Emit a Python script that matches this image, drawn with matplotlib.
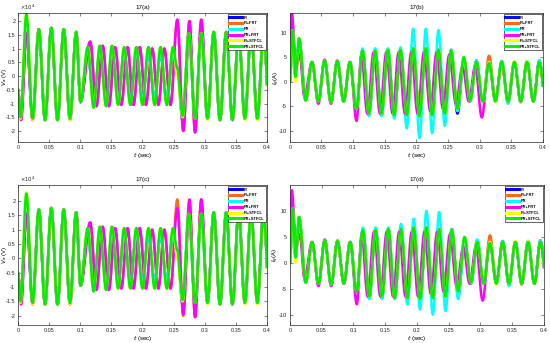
import numpy as np
import matplotlib.pyplot as plt

plt.rcParams['font.family'] = ['Liberation Sans', 'DejaVu Sans']
plt.rcParams['axes.unicode_minus'] = False

# ---- data (extrema of each half cycle) ----
labels = ['PI', 'PI+FRT', 'PR', 'PR+FRT', 'PI+STFCL', 'PR+STFCL']
colors = ['#0000FF', '#FF6A1A', '#00FFFF', '#FF00FF', '#FFFF00', '#00EE00']

# voltage, units of 1e4 V
tv = [0, 0.004, 0.0135, 0.0235, 0.0335, 0.0435, 0.0535, 0.0635, 0.0735, 0.0835,
      0.0935, 0.1005, 0.112, 0.1215, 0.1315, 0.1415, 0.151, 0.161, 0.1705, 0.1805,
      0.19, 0.2, 0.2095, 0.2195, 0.229, 0.239, 0.249, 0.2555, 0.2645, 0.2745,
      0.2845, 0.2945, 0.3045, 0.3145, 0.3245, 0.3345, 0.3445, 0.3545, 0.3645,
      0.3745, 0.3845, 0.3945, 0.4045]
tv_lag = [0, 0.005, 0.0135, 0.0235, 0.0335, 0.0435, 0.0535, 0.0635, 0.0735, 0.0835,
          0.0935, 0.1005, 0.116, 0.126, 0.136, 0.146, 0.156, 0.166, 0.176, 0.1855,
          0.1955, 0.2055, 0.2155, 0.2255, 0.235, 0.245, 0.256, 0.2655, 0.2755,
          0.2845, 0.2945, 0.3045, 0.3145, 0.3245, 0.3345, 0.3445, 0.3545, 0.3645,
          0.3745, 0.3845, 0.3945, 0.4045]

va_green = [-0.5, -1.5, 2.25, -1.55, 1.7, -1.6, 1.75, -1.6, 1.7, -1.55, 1.6, -0.95,
            1.05, -1.15, 1.1, -1.1, 1.1, -1.05, 1.05, -1.05, 1.05, -1.05, 1.05, -1.05,
            1.05, -1.05, 1.05, 0.3, -1.45, 1.55, -1.55, 1.55, -1.55, 1.6, -1.6, 1.6,
            -1.6, 1.6, -1.55, 1.6, -1.55, 1.6, -1.55]
va_yellow = [-0.5, -1.55, 2.3, -1.6, 1.7, -1.6, 1.75, -1.6, 1.7, -1.6, 1.6, -0.95,
             1.05, -1.15, 1.1, -1.1, 1.1, -1.05, 1.05, -1.05, 1.05, -1.05, 1.05, -1.05,
             1.05, -1.05, 1.05, 0.0, -1.5, 1.55, -1.55, 1.55, -1.6, 1.6, -1.6, 1.6,
             -1.6, 1.6, -1.6, 1.6, -1.6, 1.6, -1.6]
va_cyan = [-0.5, -1.5, 1.6, -1.55, 1.7, -1.6, 1.75, -1.6, 1.7, -1.55, 1.6, -0.95,
           0.85, -0.85, 0.8, -0.8, 0.8, -0.8, 0.8, -0.8, 0.8, -0.8, 0.8, -0.8,
           0.8, -0.8, 0.8, 0.3, -1.6, 1.55, -1.55, 1.55, -1.55, 1.6, -1.6, 1.6,
           -1.6, 1.6, -1.55, 1.6, -1.55, 1.6, -1.55]
va_blue = va_cyan
va_magenta = [-0.5, -1.6, 1.55, -1.6, 1.7, -1.6, 1.75, -1.6, 1.7, -1.6, 1.6, -0.95,
              1.25, -1.1, 1.1, -1.1, 1.05, -1.05, 1.05, -1.05, 1.05, -1.05, 1.0, -1.05,
              1.0, -1.05, 2.05, -2.0, 2.0, -2.05, 2.05, -1.55, 1.6, -1.6, 1.6, -1.6,
              1.6, -1.55, 1.6, -1.55, 1.6, -1.55]
va_orange = va_magenta
vc_magenta = [-0.5, -1.6, 1.55, -1.6, 1.7, -1.6, 1.75, -1.6, 1.7, -1.6, 1.6, -0.95,
              1.25, -1.1, 1.1, -1.1, 1.05, -1.05, 1.05, -1.05, 1.05, -1.05, 1.0, -1.05,
              1.0, -1.05, 1.75, -1.95, 2.05, -2.05, 2.05, -1.55, 1.6, -1.6, 1.6, -1.6,
              1.6, -1.55, 1.6, -1.55, 1.6, -1.55]

# grid current, A
ti = [0, 0.0045, 0.009, 0.0145, 0.025, 0.035, 0.045, 0.055, 0.065, 0.075, 0.085,
      0.095, 0.105, 0.115, 0.125, 0.135, 0.145, 0.155, 0.165, 0.175, 0.185, 0.195,
      0.205, 0.215, 0.225, 0.235, 0.245, 0.255, 0.265, 0.275, 0.285, 0.295, 0.305,
      0.315, 0.325, 0.335, 0.345, 0.355, 0.365, 0.375, 0.385, 0.3945, 0.4045]
ti_lag = [0, 0.003, 0.01, 0.0155, 0.023, 0.035, 0.045, 0.055, 0.065, 0.075, 0.085,
          0.095, 0.1055, 0.113, 0.1225, 0.1325, 0.1425, 0.1525, 0.1625, 0.172, 0.182,
          0.192, 0.202, 0.212, 0.222, 0.232, 0.242, 0.252, 0.2625, 0.273, 0.283, 0.293,
          0.3035, 0.3145, 0.325, 0.335, 0.345, 0.355, 0.365, 0.375, 0.385, 0.3945, 0.4045]

ib_green = [0, 10.5, 1.0, 8.8, -3.8, 4.0, -4.0, 4.3, -4.2, 4.2, -4.0, 4.0, -5.5, 6.3,
            -6.5, 6.3, -6.5, 6.5, -6.8, 6.5, -6.8, 6.8, -7.0, 6.8, -6.8, 6.5, -6.5,
            6.3, -5.5, 5.0, -3.8, 4.0, -4.0, 3.8, -4.0, 4.0, -4.0, 4.0, -4.0, 4.0,
            -4.0, 4.0, -4.0]
ib_yellow = [0, 10.5, 0.0, 8.8, -3.8, 4.0, -4.0, 4.3, -4.2, 4.2, -4.0, 4.0, -5.5, 6.3,
             -6.5, 6.3, -6.5, 6.5, -6.8, 6.5, -6.8, 6.8, -7.0, 6.8, -6.8, 6.5, -6.5,
             6.3, -5.5, 4.8, -3.8, 4.0, -4.0, 4.0, -4.2, 4.0, -4.0, 4.2, -4.0, 4.2,
             -4.0, 4.0, -4.0]
ib_blue = [0, 10.5, 1.0, 8.8, -3.8, 4.0, -4.0, 4.3, -4.2, 4.2, -4.0, 4.0, -5.5, 6.5,
           -6.8, 6.5, -6.8, 6.5, -6.8, 6.5, -6.8, 6.8, -7.0, 6.8, -6.8, 6.5, -6.5,
           6.5, -6.5, 4.5, -4.0, 4.3, -4.0, 4.0, -4.0, 4.2, -4.2, 4.0, -4.0, 4.2,
           -4.0, 4.3, -4.0]
ib_orange = [0, 10.5, 1.0, 8.8, -3.8, 4.0, -4.0, 4.3, -4.2, 4.2, -4.0, 4.0, -5.5, 6.3,
             -6.5, 6.3, -6.5, 6.5, -6.8, 6.5, -6.8, 6.8, -7.0, 6.8, -6.8, 6.5, -6.5,
             6.3, -5.5, 4.5, -4.0, 3.8, -4.0, 5.3, -3.5, 3.5, -4.0, 4.0, -4.2, 4.0,
             -4.0, 4.0, -4.0]
ib_cyan = [0, 10.5, 1.0, 8.8, -3.8, 4.0, -4.0, 4.3, -4.2, 4.2, -4.0, 4.0, -5.5, 6.8,
           -7.0, 6.8, -7.0, 6.8, -7.5, 7.0, -9.5, 10.8, -11.5, 10.8, -10.5, 10.5, -9.0,
           6.5, -6.0, 4.5, -4.0, 4.3, -4.0, 4.0, -4.0, 4.2, -4.5, 4.0, -4.0, 4.2,
           -4.0, 4.3, -4.0]
ib_magenta = [0, 14.0, 3.0, 5.5, -3.0, 4.0, -4.5, 4.5, -4.5, 4.3, -4.0, 4.0, -8.0, 5.5,
              -6.5, 6.0, -6.5, 6.0, -6.5, 6.0, -6.5, 6.0, -6.5, 6.0, -6.0, 6.0, -5.5,
              5.5, -4.5, 3.0, -4.0, 3.2, -7.3, 3.8, -3.8, 3.8, -4.0, 4.0, -4.0, 4.0,
              -4.0, 4.0, -4.0]
id_cyan = [0, 10.5, 1.0, 8.8, -3.8, 4.0, -4.0, 4.3, -4.2, 4.2, -4.0, 4.0, -5.5, 6.8,
           -7.0, 6.8, -7.0, 6.8, -7.0, 7.5, -8.0, 8.5, -9.0, 10.0, -10.0, 9.8, -9.3,
           6.5, -7.0, 4.5, -4.0, 4.5, -4.0, 4.0, -4.0, 4.2, -4.5, 4.0, -4.0, 4.2,
           -4.0, 4.3, -4.0]

xticks = [0, 0.05, 0.1, 0.15, 0.2, 0.25, 0.3, 0.35, 0.4]
xticklabels = ['0', '0.05', '0.1', '0.15', '0.2', '0.25', '0.3', '0.35', '0.4']


def wave(tk, yk, n=30):
    ts, ys = [], []
    for i in range(len(tk) - 1):
        s = np.linspace(0, 1, n, endpoint=False)
        ts.append(tk[i] + s * (tk[i + 1] - tk[i]))
        ys.append(yk[i] + (yk[i + 1] - yk[i]) * (1 - np.cos(np.pi * s)) / 2)
    return np.concatenate(ts), np.concatenate(ys)


def setup(ax, title, ylim, yticks, yticklabels, ylabel, ylab_x):
    ax.set_xlim(0, 0.4)
    ax.set_ylim(*ylim)
    ax.set_xticks(xticks)
    ax.set_xticklabels(xticklabels)
    ax.set_yticks(yticks)
    ax.set_yticklabels(yticklabels)
    ax.tick_params(direction='in', length=2, width=0.4, labelsize=4, pad=2,
                   top=True, right=True, colors='0.15')
    for sp in ax.spines.values():
        sp.set_linewidth(0.5)
        sp.set_color('0.15')
    ax.set_title(title, fontsize=4.5, pad=3)
    ax.set_xlabel('$t$ (sec)', fontsize=4.5, labelpad=1)
    ax.set_ylabel(ylabel, fontsize=4.2)
    ax.yaxis.set_label_coords(ylab_x, 0.5)
    leg = ax.legend(loc='upper right', fontsize=2.9, handlelength=3.2,
                    borderpad=0.35, labelspacing=0.45, handletextpad=0.35,
                    borderaxespad=0.3, fancybox=False, framealpha=1,
                    edgecolor='0.15')
    leg.get_frame().set_linewidth(0.5)
    for t in leg.get_texts():
        t.set_fontweight('bold')
    for h in leg.get_lines():
        h.set_linewidth(2.2)


def draw(ax, series):
    for (tk, yk), lab, c in zip(series, labels, colors):
        t, y = wave(tk, yk)
        ax.plot(t, y, color=c, lw=1.8, label=lab)


fig = plt.figure(figsize=(5.5, 3.43), dpi=100)

vt = [-2, -1.5, -1, -0.5, 0, 0.5, 1, 1.5, 2]
vtl = ['-2', '-1.5', '-1', '-0.5', '0', '0.5', '1', '1.5', '2']
it = [-10, -5, 0, 5, 10]
itl = ['-10', '-5', '0', '5', '10']

ax_a = fig.add_axes([0.0327, 0.586, 0.4527, 0.376])
draw(ax_a, [(tv, va_blue), (tv_lag, va_orange), (tv, va_cyan),
            (tv_lag, va_magenta), (tv, va_yellow), (tv, va_green)])
setup(ax_a, '17(a)', (-2.4, 2.29), vt, vtl, '$V_a$ (V)', -0.036)

ax_b = fig.add_axes([0.527, 0.586, 0.460, 0.376])
draw(ax_b, [(ti, ib_blue), (ti, ib_orange), (ti, ib_cyan),
            (ti_lag, ib_magenta), (ti, ib_yellow), (ti, ib_green)])
setup(ax_b, '17(b)', (-12.3, 14.0), it, itl, '$I_g$(A)', -0.033)

ax_c = fig.add_axes([0.0327, 0.0525, 0.4527, 0.408])
draw(ax_c, [(tv, va_blue), (tv_lag, va_orange), (tv, va_cyan),
            (tv_lag, vc_magenta), (tv, va_yellow), (tv, va_green)])
setup(ax_c, '17(c)', (-2.32, 2.55), vt, vtl, '$V_a$ (V)', -0.036)

ax_d = fig.add_axes([0.527, 0.0525, 0.462, 0.408])
draw(ax_d, [(ti, ib_blue), (ti, ib_orange), (ti, id_cyan),
            (ti_lag, ib_magenta), (ti, ib_yellow), (ti, ib_green)])
setup(ax_d, '17(d)', (-12.0, 15.0), it, itl, '$I_g$(A)', -0.033)

for ax in (ax_a, ax_c):
    ax.text(0.008, 1.01, r'$\times10^4$', transform=ax.transAxes,
            fontsize=3.8, ha='left', va='bottom', color='0.15')

fig.savefig('out.png', dpi=100)
